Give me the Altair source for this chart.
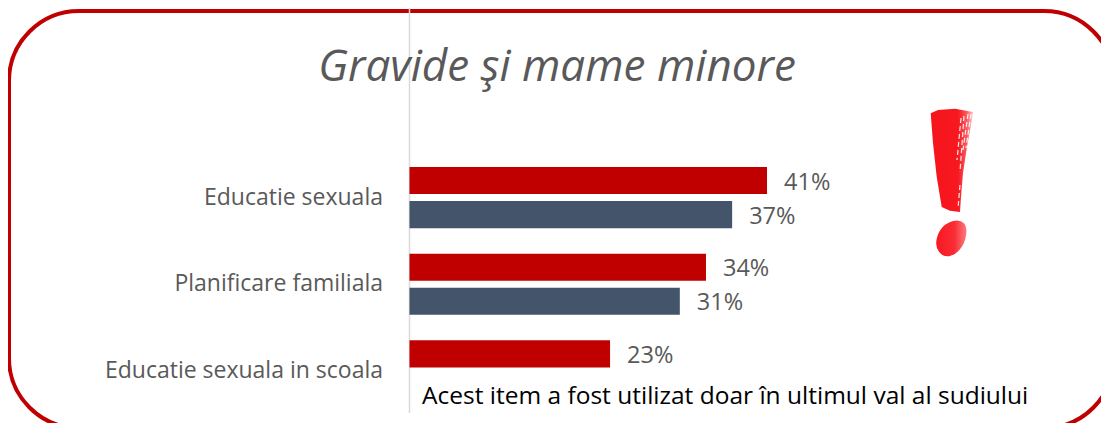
import altair as alt
import pandas as pd

categories = ["Educatie sexuala", "Planificare familiala", "Educatie sexuala in scoala"]
series = ["a", "b"]
values_a = [41, 34, 23]
values_b = [37, 31]
RED = "#c00000"
SLATE = "#44546a"
GREY = "#595959"
TITLE = "Gravide şi mame minore"
NOTE = "Acest item a fost utilizat doar în ultimul val al sudiului"

rows = []
for c, v in zip(categories, values_a):
    rows.append({"cat": c, "s": "a", "v": v, "label": f"{v}%"})
for c, v in zip(categories, values_b):
    rows.append({"cat": c, "s": "b", "v": v, "label": f"{v}%"})
df = pd.DataFrame(rows)

W, H = 1093, 415

# icon outline, page pixels
body_pts = [(930.7,113.3),(938,110),(955,108.7),(973,112),(970.7,126.7),(967,146.7),(963,173),(961,197),(960,212),(950,210.7),(941.7,207),(936.7,176.7),(933,143)]
dot_pts = [(960,219.3),(967.3,226.7),(965,243.3),(955,255),(943.3,257.3),(935,246.7),(938.3,231.7),(946.7,222.7)]
streaks = [[(971,114),(966,148)], [(968,114),(963,150)], [(964,116),(960,172)], [(961,118),(957,160)], [(960,185),(958,208)]]
CX, CY, K = 950, 185, 50
ICON_X, ICON_Y = CX - 8, CY - 8

def u(p):
    return f"{(p[0]-CX)/K:.4f},{(p[1]-CY)/K:.4f}"

def poly(pts):
    return "M" + " L".join(u(p) for p in pts) + " Z"

def lines(segs):
    return " ".join("M" + " L".join(u(p) for p in s) for s in segs)

def smooth(pts):
    n = len(pts)
    mid = lambda a, b: ((a[0]+b[0])/2, (a[1]+b[1])/2)
    d = "M" + u(mid(pts[-1], pts[0]))
    for i in range(n):
        d += " Q" + u(pts[i]) + " " + u(mid(pts[i], pts[(i+1) % n]))
    return d + " Z"

grad = alt.LinearGradient(
    gradient="linear", x1=0, x2=1, y1=0, y2=0,
    stops=[alt.GradientStop(offset=0, color="#f5141c"),
           alt.GradientStop(offset=0.65, color="#f81820"),
           alt.GradientStop(offset=0.85, color="#fb5a60"),
           alt.GradientStop(offset=1, color="#fdc8c8")],
)
dot_grad = alt.LinearGradient(
    gradient="linear", x1=0, x2=1, y1=0, y2=0,
    stops=[alt.GradientStop(offset=0, color="#f81820"),
           alt.GradientStop(offset=0.6, color="#fa2c34"),
           alt.GradientStop(offset=1, color="#fc7a80")],
)

xs = alt.Scale(domain=[0, 100], range=[401.5, 1273.5])
ys = alt.Scale(domain=categories, range=[146.25, 406.25], paddingInner=0.295, paddingOuter=0.1475, round=False)
yo = alt.Scale(domain=series, paddingInner=0.206, paddingOuter=0, round=False)
col = alt.Scale(domain=series, range=[RED, SLATE])

X = alt.X("v:Q", scale=xs, axis=None)
Y = alt.Y("cat:N", scale=ys, sort=categories, title=None,
          axis=alt.Axis(offset=-401.5, domain=False, ticks=False, labelPadding=27,
                        labelFont="Open Sans", labelFontSize=23, labelColor=GREY, labelLimit=400))
YO = alt.YOffset("s:N", scale=yo)

bars = alt.Chart(df).mark_bar().encode(
    x=X, y=Y, yOffset=YO,
    color=alt.Color("s:N", scale=col, legend=None),
)
labels = alt.Chart(df).mark_text(align="left", baseline="middle", dx=17, dy=2, font="Open Sans", fontSize=23.5, color=GREY).encode(
    x=X, y=Y, yOffset=YO, text="label:N",
)
axis_line = alt.Chart(pd.DataFrame({"v": [0]})).mark_rule(color="#d9d9d9", strokeWidth=1.5).encode(
    x=alt.X("v:Q", scale=xs, axis=None), y=alt.value(0), y2=alt.value(405)
)
frame = alt.Chart(pd.DataFrame({"k": [0]})).mark_rect(
    fillOpacity=0, stroke=RED, strokeWidth=4, cornerRadius=70, clip=True
).encode(x=alt.value(1), x2=alt.value(1106), y=alt.value(3), y2=alt.value(420))
note = alt.Chart(pd.DataFrame({"t": [NOTE]})).mark_text(
    align="left", baseline="alphabetic", font="Open Sans", fontSize=24.5, color="#000000"
).encode(x=alt.value(414), y=alt.value(396), text="t:N")
body = alt.Chart(pd.DataFrame({"k": [0]})).mark_point(
    shape=poly(body_pts), size=4 * K * K, filled=True, fill=grad, opacity=1, strokeWidth=0
).encode(x=alt.value(ICON_X), y=alt.value(ICON_Y))
streak_marks = alt.Chart(pd.DataFrame({"k": [0]})).mark_point(
    shape=lines(streaks), size=4 * K * K, filled=False, stroke="#ffffff", strokeWidth=1.2, strokeDash=[5, 3], opacity=0.9
).encode(x=alt.value(ICON_X), y=alt.value(ICON_Y))
dot = alt.Chart(pd.DataFrame({"k": [0]})).mark_point(
    shape=smooth(dot_pts), size=4 * K * K, filled=True, fill=dot_grad, opacity=1, strokeWidth=0
).encode(x=alt.value(ICON_X), y=alt.value(ICON_Y))

chart = alt.layer(frame, axis_line, bars, labels, note, body, streak_marks, dot).properties(
    width=W, height=H,
    title=alt.TitleParams(TITLE, anchor="middle", offset=-83, dx=2.5, font="Open Sans", fontStyle="italic",
                          fontWeight="normal", fontSize=44, color=GREY),
    padding=0,
    autosize=alt.AutoSizeParams(type="none"),
    background="#ffffff",
).configure_view(stroke=None)

chart.save("out.html", embed_options={"renderer": "svg", "actions": False})
